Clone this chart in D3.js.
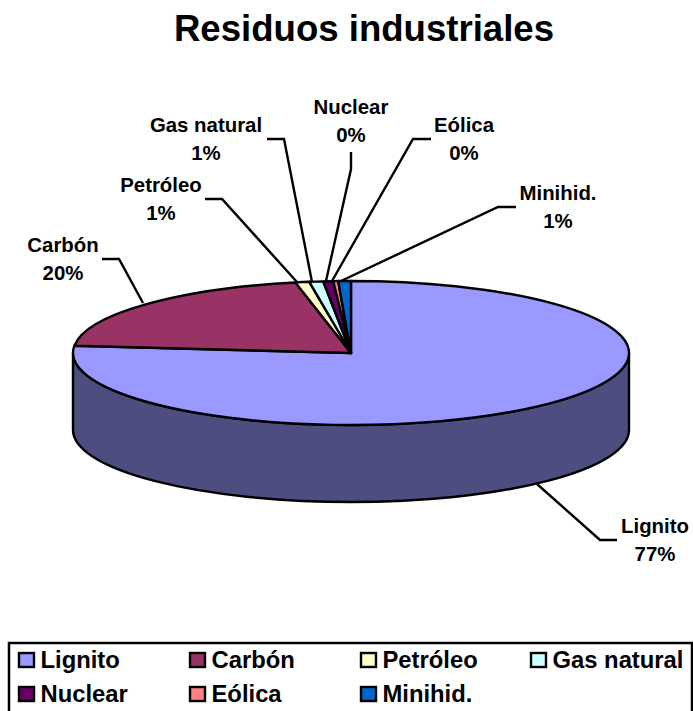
<!DOCTYPE html>
<html><head><meta charset="utf-8">
<script src="https://cdn.jsdelivr.net/npm/d3@7"></script>
<style>html,body{margin:0;background:#fff;overflow:hidden}svg{display:block}
text{font-family:"Liberation Sans",Arial,sans-serif;font-weight:700;fill:#000}</style>
</head><body><svg id="c" width="693" height="711"></svg>
<script>
const categories=["Lignito","Carbón","Petróleo","Gas natural","Nuclear","Eólica","Minihid."];
const values=[76.6,20.2,0.8,0.8,0.58,0.28,0.74];
const pctLabels=["77%","20%","1%","1%","0%","0%","1%"];
const colors=["#9999ff","#993366","#ffffcc","#ccffff","#660066","#ff8080","#0066cc"];
const sideColor="#4d4d80";
const labelPos=[[655,533],[63,252],[161,192],[206,132],[351,114],[464,132],[558,200]];
const leaders=[[[617,540],[600,540],[537,484]],[[102,259],[119,259],[143,303]],[[205,199],[222,199],[297,282]],[[267,139],[284,139],[312,282]],[[351,152],[351,169],[326,281]],[[431,139],[413,139],[332,281]],[[516,207],[498,207],[341,281]]];

const svg=d3.select("#c");
const cx=351,cy=353,rx=278,ry=72,depth=77,sw=2.4;
svg.append("text").attr("x",364).attr("y",41).attr("text-anchor","middle").attr("font-size",36.6).text("Residuos industriales");

const pie=d3.pie().sort(null)(values);
svg.append("path").attr("d",`M${cx-rx},${cy}V${cy+depth}A${rx},${ry} 0 0 0 ${cx+rx},${cy+depth}V${cy}A${rx},${ry} 0 0 1 ${cx-rx},${cy}Z`)
  .attr("fill",sideColor).attr("stroke","#000").attr("stroke-width",sw);
const arc=d3.arc().innerRadius(0).outerRadius(1);
svg.append("g").attr("transform",`translate(${cx},${cy}) scale(${rx},${ry})`)
 .selectAll("path").data(pie).join("path").attr("d",arc)
 .attr("fill",(d,i)=>colors[i]).attr("stroke","#000").attr("stroke-width",sw).attr("vector-effect","non-scaling-stroke").attr("stroke-linejoin","round");
const line=d3.line();
svg.append("g").selectAll("path").data(leaders).join("path").attr("d",line).attr("fill","none").attr("stroke","#000").attr("stroke-width",sw);
const lg=svg.append("g").selectAll("text").data(categories).join("text").attr("text-anchor","middle").attr("font-size",20.4);
lg.append("tspan").attr("x",(d,i)=>labelPos[i][0]).attr("y",(d,i)=>labelPos[i][1]).text(d=>d);
lg.append("tspan").attr("x",(d,i)=>labelPos[i][0]).attr("y",(d,i)=>labelPos[i][1]+28).text((d,i)=>pctLabels[i]);
svg.append("rect").attr("x",9).attr("y",643).attr("width",683).attr("height",90).attr("fill","#fff").attr("stroke","#000").attr("stroke-width",2.5);
const colStep=[19,190,361,531],rowY=[668,702];
const leg=svg.append("g").selectAll("g").data(categories).join("g")
 .attr("transform",(d,i)=>`translate(${colStep[i%4]},${rowY[Math.floor(i/4)]})`);
leg.append("rect").attr("x",0).attr("y",-15).attr("width",15).attr("height",14).attr("fill",(d,i)=>colors[i]).attr("stroke","#000").attr("stroke-width",2.4);
leg.append("text").attr("x",21.5).attr("y",0).attr("font-size",23.8).text(d=>d);
</script></body></html>
